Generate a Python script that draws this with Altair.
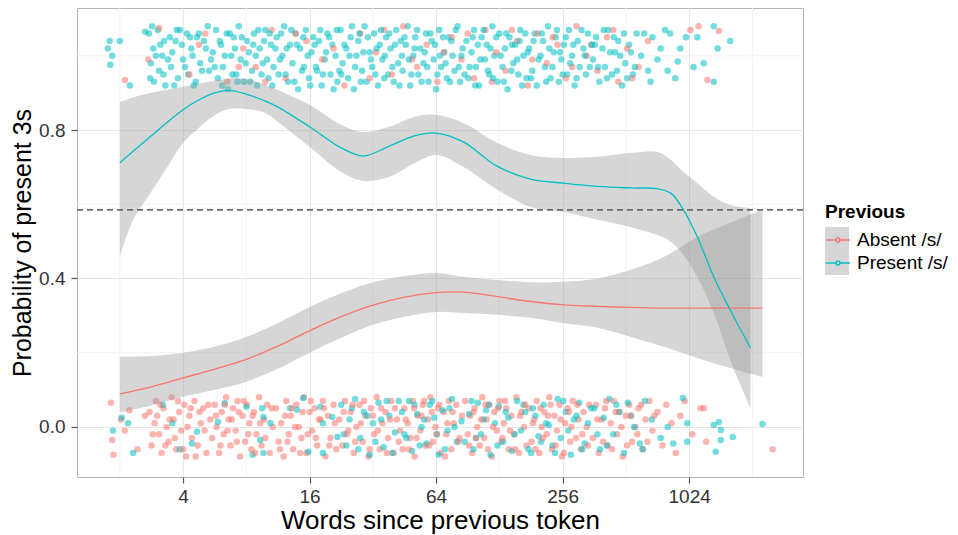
import altair as alt
import pandas as pd

# x values are log2(words since previous token); y values are probabilities
groups = ["Absent /s/", "Present /s/"]
colors = ["#F8766D", "#00BFC4"]

# ---------------- smooth fits ----------------
present_x = [1.00, 1.21, 1.48, 1.75, 2.00, 2.27, 2.50, 2.72, 3.00, 3.30, 3.50, 4.00, 4.50, 4.85, 5.26, 5.67, 6.00,
             6.43, 6.97, 7.49, 8.01, 8.55, 9.07, 9.50, 9.71, 9.91, 10.13, 10.39, 10.65, 10.97]
present_fit = [0.712, 0.743, 0.782, 0.821, 0.855, 0.883, 0.900, 0.907, 0.897, 0.878, 0.862, 0.809, 0.752, 0.730, 0.757,
               0.785, 0.792, 0.768, 0.702, 0.668, 0.657, 0.648, 0.644, 0.642, 0.630, 0.585, 0.512, 0.404, 0.315, 0.213]
present_hi = [0.876, 0.888, 0.900, 0.909, 0.917, 0.926, 0.933, 0.940, 0.938, 0.922, 0.908, 0.868, 0.814, 0.795, 0.809,
              0.836, 0.841, 0.819, 0.765, 0.733, 0.725, 0.728, 0.738, 0.741, 0.720, 0.687, 0.657, 0.620, 0.598, 0.590]
present_lo = [0.458, 0.558, 0.630, 0.700, 0.765, 0.809, 0.840, 0.857, 0.857, 0.846, 0.822, 0.755, 0.687, 0.663, 0.674,
              0.712, 0.733, 0.701, 0.639, 0.593, 0.580, 0.558, 0.539, 0.517, 0.499, 0.464, 0.404, 0.307, 0.180, 0.050]

absent_x = [1.00, 1.50, 2.00, 2.50, 3.00, 3.50, 4.00, 4.50, 5.00, 5.50, 6.00, 6.43, 6.97, 7.49, 8.01, 8.55, 9.07,
            9.60, 10.13, 10.65, 11.16]
absent_fit = [0.089, 0.108, 0.132, 0.156, 0.182, 0.218, 0.259, 0.297, 0.328, 0.350, 0.362, 0.363, 0.351, 0.338, 0.329,
              0.325, 0.322, 0.320, 0.320, 0.320, 0.320]
absent_hi = [0.189, 0.191, 0.200, 0.216, 0.242, 0.280, 0.323, 0.360, 0.390, 0.407, 0.415, 0.405, 0.396, 0.390, 0.391,
             0.400, 0.423, 0.458, 0.512, 0.550, 0.585]
absent_lo = [0.040, 0.058, 0.081, 0.100, 0.122, 0.157, 0.200, 0.240, 0.275, 0.297, 0.310, 0.307, 0.302, 0.294, 0.280,
             0.267, 0.243, 0.216, 0.186, 0.159, 0.135]

present_top_x = [0.81, 0.84, 0.88, 0.85, 1.00, 1.16, 1.40,
                 1.46, 1.49, 1.53, 1.54, 1.60, 1.62, 1.67, 1.70, 1.72, 1.79, 1.81, 1.83, 1.90, 1.92, 1.98, 2.00, 2.06, 2.08, 2.13, 2.17, 2.22, 2.27, 2.33, 2.41,
                 2.47, 2.52, 2.55, 2.60, 2.63, 2.69, 2.71, 2.76, 2.80, 2.84, 2.88, 2.91, 2.96, 3.01, 3.04, 3.09, 3.12, 3.17, 3.21, 3.26, 3.30, 3.35, 3.39, 3.43,
                 3.48, 3.51, 3.57, 3.60, 3.66, 3.69, 3.73, 3.78, 3.82, 3.85, 3.91, 3.94, 3.99, 4.03, 4.06, 4.12, 4.15, 4.19, 4.24, 4.28, 4.33, 4.36, 4.41, 4.44,
                 4.49, 4.52, 4.58, 4.61, 4.65, 4.70, 4.74, 4.77, 4.83, 4.87, 4.90, 4.95, 4.99, 5.02, 5.08, 5.11, 5.15, 5.21, 5.24, 5.28, 5.33, 5.37, 5.40, 5.44,
                 5.47, 5.52, 5.55, 5.59, 5.64, 5.67, 5.72, 5.75, 5.80, 5.84, 5.88, 5.93, 5.96, 6.00, 6.05, 6.08, 6.13, 6.17, 6.20, 6.26, 6.29, 6.34, 6.38, 6.42,
                 6.48, 6.51, 6.56, 6.60, 6.63, 6.68, 6.72, 6.77, 6.80, 6.84, 6.89, 6.92, 6.97, 7.00, 7.05, 7.09, 7.13, 7.16, 7.22, 7.25, 7.30, 7.33, 7.38, 7.43,
                 7.47, 7.52, 7.56, 7.59, 7.65, 7.69, 7.72, 7.77, 7.81, 7.86, 7.89, 7.94, 7.98, 8.02, 8.07, 8.10, 8.15, 8.19, 8.24, 8.27, 8.33, 8.37, 8.40,
                 8.48, 8.53, 8.58, 8.63, 8.67, 8.72, 8.78, 8.83, 8.88, 8.94, 8.99, 9.05, 9.11, 9.17,
                 9.24, 9.29, 9.35, 9.39, 9.42, 9.50, 9.55, 9.62, 9.66, 9.70, 9.78, 9.82, 9.86, 9.95,
                 10.07, 10.13, 10.23, 10.39, 10.39, 10.45, 10.65]
present_top_y = [1.02, 1.04, 1.00, 0.976, 1.04, 0.92, 1.065,
                 1.06, 0.98, 1.02, 0.93, 1.07, 0.96, 1.00, 1.04, 0.92, 1.05, 0.97, 1.01, 1.07, 0.94, 1.03, 0.99, 1.06, 0.95, 1.02, 0.92, 1.05, 0.98, 1.04, 0.96,
                 1.01, 1.07, 0.94, 1.03, 0.97, 1.06, 0.91, 1.00, 1.05, 0.95, 1.08, 0.99, 0.93, 1.04, 1.01, 0.96, 1.06, 0.92, 1.02, 0.98, 1.07, 0.94, 1.03, 0.97,
                 1.05, 0.95, 1.00, 1.08, 0.93, 1.03, 0.98, 1.06, 0.91, 1.02, 0.97, 1.07, 0.94, 1.01, 1.05, 0.96, 1.04, 0.92, 0.99, 1.06, 0.95, 1.03, 1.00, 0.93,
                 1.07, 0.98, 1.02, 0.94, 1.05, 0.91, 1.00, 1.04, 0.96, 1.08, 0.93, 1.01, 0.97, 1.06, 0.92, 1.03, 0.99, 1.05, 0.95, 1.02, 0.93, 1.07, 0.98, 1.04,
                 0.96, 1.03, 1.08, 0.92, 1.00, 1.05, 0.95, 1.02, 0.98, 1.06, 0.93, 1.04, 0.99, 0.91, 1.07, 0.97, 1.01, 0.94, 1.05, 1.00, 0.96, 1.08, 0.93, 1.02,
                 1.04, 0.94, 1.01, 1.07, 0.97, 0.92, 1.05, 0.99, 1.03, 0.95, 1.08, 1.00, 0.93, 1.06, 0.97, 1.02, 0.91, 1.05, 0.98, 1.03, 0.95, 1.07, 1.00, 0.94,
                 1.02, 0.96, 1.06, 0.92, 1.00, 1.04, 0.97, 1.08, 0.94, 1.01, 1.05, 0.93, 0.99, 1.03, 0.95, 1.07, 1.00, 0.92, 1.04, 0.97, 1.02, 0.95, 1.06,
                 0.99, 1.05, 0.93, 1.02, 0.97, 1.07, 0.95, 1.01, 1.04, 0.92, 0.98, 1.03, 0.95, 1.06,
                 1.00, 1.06, 0.96, 0.93, 1.05, 0.99, 1.02, 1.07, 0.96, 1.06, 0.94, 0.985, 1.02, 1.05,
                 0.97, 1.05, 0.98, 0.93, 1.08, 1.02, 1.04]
present_top_x2 = [1.48, 1.51, 1.57, 1.64, 1.69, 1.76, 1.86, 1.88, 1.95, 2.03, 2.11, 2.15, 2.20, 2.25, 2.30, 2.36, 2.39, 2.44,
                  2.50, 2.58, 2.62, 2.66, 2.74, 2.78, 2.82, 2.86, 2.93, 2.99, 3.06, 3.11, 3.15, 3.19, 3.24, 3.28, 3.33, 3.37, 3.41, 3.46,
                  3.53, 3.55, 3.62, 3.64, 3.71, 3.76, 3.80, 3.88, 3.90, 3.97, 4.01, 4.08, 4.10, 4.17, 4.21, 4.26, 4.31, 4.38, 4.43, 4.47,
                  4.50, 4.55, 4.63, 4.67, 4.72, 4.79, 4.81, 4.85, 4.92, 4.97, 5.04, 5.06, 5.13, 5.18, 5.19, 5.26, 5.31, 5.35, 5.42, 5.46,
                  5.50, 5.57, 5.61, 5.66, 5.70, 5.77, 5.82, 5.86, 5.91, 5.98, 6.02, 6.06, 6.11, 6.15, 6.22, 6.24, 6.31, 6.36, 6.40, 6.45,
                  6.53, 6.58, 6.62, 6.66, 6.70, 6.75, 6.82, 6.86, 6.90, 6.95, 7.02, 7.07, 7.11, 7.19, 7.20, 7.28, 7.32, 7.36, 7.41, 7.45,
                  7.50, 7.54, 7.62, 7.67, 7.74, 7.79, 7.84, 7.91, 7.96, 8.00, 8.05, 8.12, 8.17, 8.22, 8.30, 8.35, 8.43, 8.46,
                  8.51, 8.56, 8.65, 8.70, 8.75, 8.81, 8.86, 8.91, 8.97, 9.02, 9.08, 9.14]
present_top_y2 = [0.94, 1.08, 1.00, 1.03, 0.95, 0.99, 0.92, 1.04, 1.07, 0.97, 1.05, 1.00, 0.93, 1.06, 0.96, 1.02, 1.08, 0.99,
                  0.97, 1.04, 0.92, 1.00, 1.06, 0.95, 1.02, 0.93, 1.05, 0.98, 0.93, 1.03, 1.00, 1.07, 0.95, 1.04, 0.99, 1.06, 0.92, 1.02,
                  0.99, 1.06, 0.95, 1.02, 1.07, 0.93, 1.03, 0.96, 1.05, 1.00, 0.92, 1.03, 0.97, 1.07, 0.95, 1.01, 1.05, 0.91, 1.07, 0.96,
                  0.95, 1.03, 1.00, 1.08, 0.97, 1.06, 0.93, 1.01, 1.05, 0.99, 0.95, 1.02, 1.07, 0.94, 1.00, 1.06, 0.97, 1.03, 0.92, 1.00,
                  1.05, 0.99, 0.95, 1.02, 1.07, 0.93, 1.01, 0.97, 1.06, 1.03, 0.95, 1.00, 1.05, 0.98, 0.93, 1.04, 1.07, 0.97, 1.00, 0.95,
                  0.97, 1.05, 0.92, 1.03, 0.99, 1.07, 0.96, 1.02, 0.94, 1.05, 1.00, 0.93, 1.06, 0.96, 1.03, 0.99, 1.04, 0.92, 1.06, 1.01,
                  0.94, 1.04, 0.99, 1.06, 0.93, 1.02, 0.97, 1.07, 1.01, 0.95, 1.05, 0.98, 1.03, 0.94, 1.07, 1.00, 0.97, 1.03,
                  1.03, 0.97, 1.07, 0.94, 1.01, 1.05, 0.96, 1.00, 1.06, 0.94, 1.01, 0.97]

absent_top_x = [1.08, 1.45, 1.62, 2.10, 2.35, 2.70, 2.95, 3.15, 3.40, 3.62, 3.95, 4.20, 4.55, 4.80, 5.05, 5.30, 5.48,
                5.70, 5.85, 6.02, 6.25, 6.40, 6.60, 6.78, 6.95, 7.10, 7.28, 7.45, 7.60, 7.75, 7.92, 8.05, 8.22, 8.38,
                8.55, 8.70, 8.88, 9.02, 9.20, 9.35, 10.02, 10.15, 10.29, 10.47,
                2.25, 2.88, 3.30, 3.78, 4.38, 4.95, 5.18, 5.62, 6.12, 6.50, 6.88, 7.20, 7.52, 7.84, 8.15, 8.45, 8.80, 9.10]
absent_top_y = [0.935, 0.99, 1.075, 0.95, 1.06, 0.93, 1.02, 0.97, 1.07, 0.94, 1.04, 0.99, 0.92, 1.06, 1.01, 0.95, 1.08,
                0.97, 1.03, 0.93, 1.05, 0.99, 0.94, 1.07, 1.01, 0.96, 1.04, 0.92, 1.06, 0.98, 1.03, 0.94, 1.08, 1.00,
                0.96, 1.05, 0.93, 1.02, 0.97, 1.04, 1.07, 1.08, 0.935, 1.067,
                1.03, 0.97, 0.93, 1.06, 1.02, 0.94, 1.07, 0.99, 1.01, 1.06, 0.93, 1.07, 0.99, 1.05, 0.97, 1.03, 1.07, 0.94]

absent_bottom_x = [0.86, 0.88, 0.90, 1.02, 1.08, 1.15, 1.28, 1.40,
                   1.47, 1.50, 1.55, 1.57, 1.62, 1.66, 1.69, 1.74, 1.77, 1.82, 1.85, 1.89, 1.94, 1.97, 2.02, 2.05, 2.10, 2.14, 2.18, 2.23, 2.28, 2.32, 2.37, 2.43,
                   2.46, 2.50, 2.53, 2.57, 2.61, 2.64, 2.68, 2.72, 2.75, 2.79, 2.83, 2.86, 2.90, 2.94, 2.98, 3.01, 3.05, 3.08, 3.12, 3.16, 3.20, 3.24, 3.28, 3.33, 3.37, 3.42,
                   3.47, 3.51, 3.55, 3.59, 3.63, 3.67, 3.70, 3.74, 3.79, 3.83, 3.87, 3.91, 3.95, 4.00, 4.04, 4.08, 4.12, 4.17, 4.21, 4.25, 4.29, 4.33, 4.38, 4.42,
                   4.47, 4.52, 4.56, 4.61, 4.65, 4.70, 4.74, 4.79, 4.84, 4.88, 4.93, 4.97, 5.02, 5.06, 5.11, 5.15, 5.20, 5.24, 5.29, 5.33, 5.38, 5.43,
                   5.47, 5.50, 5.55, 5.59, 5.63, 5.66, 5.71, 5.75, 5.79, 5.83, 5.87, 5.91, 5.95, 5.99, 6.03, 6.07, 6.12, 6.16, 6.20, 6.24, 6.28, 6.32, 6.37, 6.41,
                   6.46, 6.50, 6.54, 6.57, 6.61, 6.65, 6.69, 6.73, 6.76, 6.80, 6.84, 6.88, 6.92, 6.96, 7.00, 7.03, 7.07, 7.11, 7.15, 7.19, 7.23, 7.27, 7.31, 7.35, 7.39, 7.43,
                   7.47, 7.51, 7.55, 7.59, 7.63, 7.67, 7.71, 7.75, 7.79, 7.83, 7.87, 7.91, 7.95, 7.99, 8.04, 8.08, 8.12, 8.16, 8.21, 8.25, 8.29, 8.33, 8.38, 8.42,
                   8.48, 8.53, 8.57, 8.62, 8.67, 8.71, 8.76, 8.81, 8.86, 8.90, 8.95, 9.00, 9.05, 9.10, 9.15, 9.20, 9.26, 9.31, 9.37, 9.42,
                   9.50, 9.58, 9.64, 9.72, 9.79, 9.86, 9.93, 10.05, 10.18, 10.27, 10.23, 11.32]
absent_bottom_y = [0.065, -0.035, -0.075, 0.02, -0.01, 0.045, -0.06, 0.03,
                   0.04, -0.05, 0.01, 0.07, -0.02, -0.07, 0.05, 0.00, -0.04, 0.08, 0.02, -0.06, 0.04, -0.01, 0.06, -0.08, 0.03, -0.03, 0.07, -0.05, 0.01, 0.05, -0.07, 0.02,
                   -0.03, 0.06, 0.00, -0.07, 0.04, -0.02, 0.08, 0.02, -0.05, 0.05, -0.01, 0.07, -0.08, 0.03, -0.04, 0.06, 0.01, -0.06, 0.04, -0.02, 0.08, -0.05, 0.02, 0.06, -0.07, 0.00,
                   0.05, -0.04, 0.01, -0.08, 0.07, -0.02, 0.03, -0.06, 0.06, 0.00, -0.03, 0.08, -0.07, 0.04, -0.01, 0.05, -0.05, 0.02, 0.07, -0.08, 0.03, -0.03, 0.06, -0.06,
                   0.02, -0.05, 0.07, -0.01, 0.04, -0.07, 0.00, 0.06, -0.04, 0.03, -0.08, 0.05, -0.02, 0.08, -0.06, 0.01, 0.04, -0.03, 0.07, -0.07, 0.02, -0.01,
                   -0.06, 0.05, 0.01, -0.03, 0.07, -0.08, 0.03, -0.01, 0.06, -0.05, 0.02, 0.08, -0.04, 0.00, 0.05, -0.07, 0.04, -0.02, 0.07, -0.06, 0.01, 0.06, -0.03, 0.03,
                   0.07, -0.02, 0.03, -0.07, 0.05, 0.00, -0.05, 0.08, -0.03, 0.02, 0.06, -0.08, 0.04, -0.01, 0.07, -0.04, 0.01, 0.05, -0.06, 0.03, -0.02, 0.08, -0.07, 0.04, 0.00, -0.05,
                   0.05, -0.04, 0.02, 0.07, -0.07, 0.00, 0.04, -0.02, 0.08, -0.06, 0.03, -0.01, 0.06, -0.08, 0.01, 0.05, -0.04, 0.07, -0.03, 0.02, -0.06, 0.04, 0.00, 0.06,
                   -0.03, 0.06, -0.07, 0.02, 0.05, -0.05, 0.01, 0.07, -0.02, 0.04, -0.08, 0.03, 0.06, -0.04, 0.00, 0.05, -0.06, 0.02, 0.07, -0.01,
                   0.04, -0.05, 0.06, 0.01, -0.07, 0.03, 0.07, -0.02, 0.05, -0.04, 0.05, -0.06]
absent_bottom_x2 = [1.52, 1.59, 1.64, 1.72, 1.79, 1.87, 1.92, 2.00, 2.07, 2.12, 2.20, 2.26, 2.34, 2.40,
                    2.52, 2.59, 2.66, 2.70, 2.77, 2.85, 2.88, 2.96, 3.03, 3.10, 3.14, 3.22, 3.30, 3.40,
                    3.53, 3.61, 3.65, 3.72, 3.77, 3.85, 3.89, 3.97, 4.02, 4.10, 4.15, 4.23, 4.31, 4.40,
                    4.54, 4.59, 4.68, 4.72, 4.81, 4.86, 4.95, 5.00, 5.08, 5.13, 5.22, 5.27, 5.35, 5.41,
                    5.52, 5.57, 5.65, 5.69, 5.77, 5.81, 5.89, 5.93, 6.01, 6.05, 6.14, 6.18, 6.26, 6.35,
                    6.52, 6.59, 6.63, 6.71, 6.78, 6.82, 6.90, 6.98, 7.05, 7.09, 7.17, 7.25, 7.33, 7.41,
                    7.53, 7.57, 7.65, 7.69, 7.77, 7.81, 7.89, 7.97, 8.02, 8.10, 8.14, 8.23, 8.31, 8.40,
                    8.55, 8.64, 8.69, 8.78, 8.84, 8.93, 9.02, 9.08, 9.18, 9.24, 9.34, 9.45]
absent_bottom_y2 = [-0.02, 0.03, 0.06, -0.05, 0.02, -0.03, 0.07, -0.06, 0.00, 0.05, -0.08, 0.04, -0.01, 0.06,
                    0.03, -0.05, 0.06, -0.01, 0.02, -0.04, 0.04, 0.07, -0.02, 0.03, -0.07, 0.01, -0.03, 0.05,
                    -0.06, 0.03, -0.04, 0.05, 0.00, -0.07, 0.04, -0.02, 0.07, -0.03, 0.02, 0.05, -0.05, 0.01,
                    0.04, -0.02, 0.06, -0.04, 0.01, 0.07, -0.06, 0.03, -0.01, 0.05, -0.07, 0.02, 0.05, -0.04,
                    0.02, -0.06, 0.05, -0.03, 0.03, 0.07, -0.05, 0.04, -0.02, 0.06, -0.08, 0.01, 0.04, -0.04,
                    -0.05, 0.04, -0.03, 0.02, 0.06, -0.06, 0.00, 0.05, -0.03, 0.07, -0.01, -0.06, 0.03, 0.06,
                    0.01, -0.06, 0.05, -0.03, 0.03, 0.06, -0.05, 0.02, -0.07, 0.04, 0.00, 0.06, -0.02, -0.05,
                    0.02, -0.04, 0.07, -0.06, 0.04, 0.00, -0.05, 0.03, -0.02, 0.06, -0.04, 0.03]

present_bottom_x = [0.89, 1.03, 1.13, 1.21, 1.68, 1.83, 1.95, 2.14, 2.22, 2.55, 2.66, 3.00, 3.10, 3.22, 3.25, 3.27, 3.27,
                    3.38, 3.69, 3.80, 3.90, 3.98, 4.17, 4.21, 4.21, 4.36, 4.44,
                    4.50, 4.58, 4.63, 4.72, 4.80, 4.86, 4.95, 5.00, 5.09, 5.17, 5.26, 5.35, 5.41,
                    5.50, 5.57, 5.62, 5.70, 5.77, 5.85, 5.90, 5.97, 6.04, 6.10, 6.18, 6.25, 6.33, 6.40,
                    6.52, 6.59, 6.66, 6.71, 6.79, 6.86, 6.93, 6.99, 7.06, 7.14, 7.20, 7.28, 7.34, 7.41,
                    7.50, 7.57, 7.62, 7.70, 7.78, 7.84, 7.92, 7.97, 8.05, 8.13, 8.18, 8.26, 8.35, 8.40,
                    8.50, 8.59, 8.65, 8.74, 8.80, 8.89, 8.97, 9.03, 9.13, 9.22, 9.30, 9.41, 9.55,
                    9.66, 9.75, 9.90, 9.97, 9.97, 10.39, 10.42, 10.47, 10.50, 10.50, 10.69, 11.16,
                    4.54, 4.67, 4.77, 4.91, 5.04, 5.13, 5.22, 5.31, 5.46, 5.53, 5.66, 5.74, 5.81, 5.94, 6.01, 6.14,
                    6.21, 6.29, 6.45, 6.56, 6.63, 6.75, 6.83, 6.97, 7.10, 7.24, 7.38, 7.46, 7.53, 7.66, 7.74, 7.88,
                    8.01, 8.09, 8.22, 8.31, 8.45, 8.55, 8.70, 8.85, 9.08, 9.27]
present_bottom_y = [-0.01, 0.025, 0.01, -0.07, 0.06, 0.01, -0.06, -0.045, -0.013, 0.013, 0.064, 0.054, -0.075, -0.035,
                    0.05, 0.027, -0.07, 0.01, 0.05, 0.046, 0.078, -0.067, 0.054, 0.01, -0.07, 0.027, -0.027,
                    0.06, -0.05, 0.02, 0.075, -0.03, 0.04, -0.075, 0.01, 0.065, -0.055, 0.03, -0.015, 0.07,
                    -0.02, 0.07, -0.065, 0.035, 0.00, -0.045, 0.06, 0.025, -0.075, 0.045, -0.01, 0.075, -0.04, 0.015,
                    0.035, -0.06, 0.065, -0.02, 0.045, -0.075, 0.01, 0.055, -0.04, 0.025, -0.065, 0.07, -0.01, 0.04,
                    -0.07, 0.03, -0.025, 0.06, 0.005, -0.05, 0.075, -0.03, 0.04, -0.075, 0.02, 0.065, -0.045, 0.01,
                    0.05, -0.06, 0.025, 0.075, -0.02, 0.04, -0.07, 0.065, 0.00, -0.045, 0.07, 0.02, -0.03,
                    0.00, -0.045, 0.078, 0.01, -0.04, 0.005, -0.067, 0.013, -0.008, -0.035, -0.027, 0.008,
                    -0.02, 0.05, -0.06, 0.03, -0.04, 0.02, 0.07, -0.07, 0.04, -0.03, 0.06, -0.05, 0.02, 0.07, -0.02, -0.06,
                    0.05, 0.00, -0.04, 0.07, -0.03, 0.02, 0.06, -0.05, 0.04, -0.02, 0.06, -0.06, 0.05, -0.04, 0.01, -0.07,
                    0.07, -0.01, 0.03, -0.06, 0.05, -0.02, -0.05, 0.06, 0.03, -0.06]

dashed_level = [0.585]
x_major = [2, 4, 6, 8, 10]
x_minor = [1, 3, 5, 7, 9, 11]
y_major = [0.0, 0.4, 0.8]
y_minor = [0.2, 0.6, 1.0]
x_domain = [0.323, 11.80]
y_domain = [-0.135, 1.129]

for a, b in [(present_top_x, present_top_y), (present_top_x2, present_top_y2), (absent_top_x, absent_top_y),
             (absent_bottom_x, absent_bottom_y), (absent_bottom_x2, absent_bottom_y2),
             (present_bottom_x, present_bottom_y)]:
    assert len(a) == len(b), (len(a), len(b))

# ---------------- tables ----------------
pts = pd.concat([
    pd.DataFrame({"x": absent_bottom_x, "y": absent_bottom_y, "Previous": groups[0]}),
    pd.DataFrame({"x": present_bottom_x, "y": present_bottom_y, "Previous": groups[1]}),
    pd.DataFrame({"x": absent_bottom_x2, "y": absent_bottom_y2, "Previous": groups[0]}),
    pd.DataFrame({"x": present_top_x, "y": present_top_y, "Previous": groups[1]}),
    pd.DataFrame({"x": absent_top_x, "y": absent_top_y, "Previous": groups[0]}),
    pd.DataFrame({"x": present_top_x2, "y": present_top_y2, "Previous": groups[1]}),
], ignore_index=True)

fits = pd.concat([
    pd.DataFrame({"x": absent_x, "fit": absent_fit, "hi": absent_hi, "lo": absent_lo, "Previous": groups[0]}),
    pd.DataFrame({"x": present_x, "fit": present_fit, "hi": present_hi, "lo": present_lo, "Previous": groups[1]}),
], ignore_index=True)
fits["key"] = fits["Previous"] + " "

FONT = "Liberation Sans"
xscale = alt.Scale(domain=x_domain, nice=False, zero=False)
yscale = alt.Scale(domain=y_domain, nice=False, zero=False)
xaxis = alt.Axis(values=x_major, labelExpr="format(pow(2, datum.value), 'd')",
                 title="Words since previous token", titleFontSize=26, titleFontWeight="normal",
                 titlePadding=1, labelPadding=4)
yaxis = alt.Axis(values=y_major, format=".1f", title="Probability of present 3s",
                 titleFontSize=25, titleFontWeight="normal", titlePadding=3, labelPadding=6)

X = alt.X("x:Q", scale=xscale, axis=xaxis)
color_scale = alt.Scale(domain=groups, range=colors)

grid_x = alt.Chart(pd.DataFrame({"x": x_minor})).mark_rule(color="#f3f3f3", strokeWidth=1).encode(
    x=alt.X("x:Q", scale=xscale, axis=xaxis))
grid_y = alt.Chart(pd.DataFrame({"y": y_minor})).mark_rule(color="#f3f3f3", strokeWidth=1).encode(
    y=alt.Y("y:Q", scale=yscale, axis=yaxis))

points = alt.Chart(pts).mark_circle(size=42, opacity=0.55).encode(
    x=X,
    y=alt.Y("y:Q", scale=yscale, axis=yaxis),
    color=alt.Color("Previous:N", scale=color_scale, legend=None),
)

common_legend = dict(orient="none", legendX=748, legendY=195, titleFontSize=19, titleFontWeight="bold",
                     labelFontSize=19, rowPadding=0, titlePadding=5, labelOffset=6, padding=0,
                     symbolSize=576, titleFont=FONT, labelFont=FONT)

bands = alt.Chart(fits).mark_area(opacity=0.4, interpolate="catmull-rom").encode(
    x=X,
    y=alt.Y("hi:Q", scale=yscale, axis=yaxis),
    y2="lo:Q",
    fill=alt.Fill("key:N", scale=alt.Scale(domain=[g + " " for g in groups], range=["#999999", "#999999"]),
                  legend=alt.Legend(title=" ", labelExpr="''",
                                    symbolType="square", symbolOpacity=0.4, symbolStrokeWidth=0,
                                    zindex=0, **common_legend)),
)

lines = alt.Chart(fits).mark_line(strokeWidth=1.3, interpolate="catmull-rom").encode(
    x=X,
    y=alt.Y("fit:Q", scale=yscale, axis=yaxis),
    color=alt.Color("Previous:N", scale=color_scale,
                    legend=alt.Legend(title="Previous", titleColor="black", labelColor="black",
                                      symbolType="M-1,0H-0.16M0.16,0H1M-0.16,0A0.16,0.16,0,1,1,0.16,0A0.16,0.16,0,1,1,-0.16,0",
                                      symbolStrokeWidth=1.5, zindex=1, **common_legend)),
)

hline = alt.Chart(pd.DataFrame({"y": dashed_level})).mark_rule(
    color="#6b6b6b", strokeWidth=1.6, strokeDash=[6, 4]).encode(
    y=alt.Y("y:Q", scale=yscale, axis=yaxis))

chart = alt.layer(grid_x, grid_y, points, bands, lines, hline).resolve_scale(
    fill="independent", color="independent").properties(
    width=726, height=469,
    autosize=alt.AutoSizeParams(type="none"),
    padding={"left": 69, "top": 0, "right": 147, "bottom": 58},
).configure(font=FONT).configure_axis(
    domain=False, grid=True, gridColor="#e6e6e6", gridWidth=1.2,
    tickColor="#555555", tickSize=6, tickWidth=1.2,
    labelFontSize=19, labelColor="#333333", titleColor="black", labelFont=FONT, titleFont=FONT,
).configure_view(stroke="#b5b5b5", strokeWidth=1)

chart.save("out.html", embed_options={"renderer": "svg", "actions": False})
